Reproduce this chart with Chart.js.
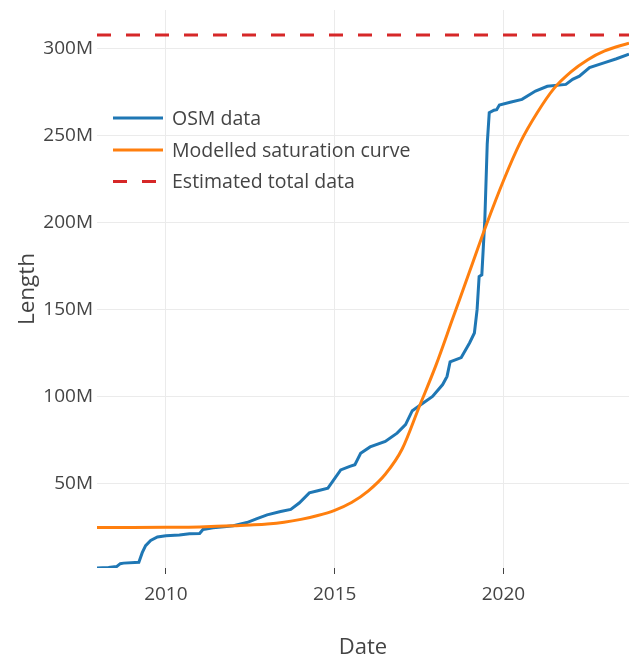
<!DOCTYPE html>
<html>
<head>
<meta charset="utf-8">
<script src="https://cdn.jsdelivr.net/npm/chart.js@4.4.1/dist/chart.umd.min.js"></script>
<style>
  html, body { margin: 0; padding: 0; background: #fff; }
  #chart { display: block; }
</style>
</head>
<body>
<canvas id="chart" width="629" height="658"></canvas>
<script>
// OSM road length over time (decimal year, millions of metres)
const osmYears = [
  2007.96, 2008.3, 2008.54, 2008.65, 2008.75, 2009.2, 2009.3, 2009.4, 2009.55, 2009.75,
  2010.0, 2010.4, 2010.7, 2011.0, 2011.1, 2011.4, 2011.8, 2012.0, 2012.4, 2012.7,
  2013.0, 2013.4, 2013.7, 2013.95, 2014.25, 2014.5, 2014.8, 2015.18, 2015.45, 2015.6,
  2015.77, 2016.05, 2016.5, 2016.85, 2017.1, 2017.3, 2017.55, 2017.9, 2018.2, 2018.33,
  2018.42, 2018.75, 2019.0, 2019.14, 2019.22, 2019.28, 2019.36, 2019.45, 2019.52, 2019.58,
  2019.72, 2019.8, 2019.88, 2020.2, 2020.55, 2020.95, 2021.3, 2021.85, 2022.05, 2022.25,
  2022.55, 2023.0, 2023.35, 2023.72
];
const osmLength = [
  1.7, 2.0, 2.5, 4.2, 4.5, 5.0, 10.5, 14.5, 17.5, 19.5,
  20.2, 20.7, 21.3, 21.5, 23.8, 24.8, 25.5, 26.0, 27.8, 30.0,
  32.2, 34.1, 35.3, 39.0, 44.8, 46.0, 47.5, 58.0, 60.0, 61.0,
  67.5, 71.2, 74.3, 79.1, 84.0, 92.0, 95.4, 100.2, 107.0, 111.7,
  120.0, 122.5, 131.0, 136.6, 150.0, 169.0, 170.0, 202.0, 245.0, 263.0,
  264.5, 264.8, 267.5, 269.0, 270.7, 275.5, 278.2, 279.3, 282.2, 284.0,
  289.0, 291.8, 294.0, 296.6
];

// Fitted saturation curve
const modelYears = [
  2007.96, 2009.0, 2010.0, 2011.0, 2012.0, 2012.5, 2013.0, 2013.5, 2014.0, 2014.5,
  2015.0, 2015.5, 2016.0, 2016.5, 2017.0, 2017.5, 2018.0, 2018.5, 2019.0, 2019.5,
  2020.0, 2020.5, 2021.0, 2021.5, 2022.0, 2022.5, 2023.0, 2023.72
];
const modelLength = [
  25.0, 25.0, 25.1, 25.3, 25.9, 26.4, 27.0, 28.0, 29.6, 31.8,
  34.8, 39.3, 46.0, 55.5, 70.0, 94.0, 118.0, 145.0, 172.0, 199.0,
  224.0, 246.0, 263.0, 277.0, 286.5, 293.5, 298.5, 303.0
];

// Estimated total (saturation level)
const estimatedTotal = 307.6;

const xTickYears = [2010, 2015, 2020];
const yTickValues = [50, 100, 150, 200, 250, 300];
const yAxisMax = 322;

const seriesLabels = ['OSM data', 'Modelled saturation curve', 'Estimated total data'];
const seriesColors = ['#1f77b4', '#ff7f0e', '#d62728'];

const toPoints = (xs, ys) => xs.map((x, i) => ({ x, y: ys[i] }));
const xMin = osmYears[0];
const xMax = osmYears[osmYears.length - 1];

Chart.defaults.font.family = "'Open Sans', 'Noto Sans', sans-serif";
Chart.defaults.color = '#444';

// Legend drawn inside the plot area, top-left
const insideLegend = {
  id: 'insideLegend',
  afterDatasetsDraw(chart) {
    const { ctx, chartArea } = chart;
    const x0 = chartArea.left + 16;
    const x1 = x0 + 50;
    const tx = x0 + 59;
    const rows = [118, 150, 181.5];
    ctx.save();
    ctx.font = "19.5px 'Open Sans', sans-serif";
    ctx.textBaseline = 'middle';
    chart.data.datasets.forEach((ds, i) => {
      const y = rows[i];
      ctx.beginPath();
      ctx.strokeStyle = ds.borderColor;
      ctx.lineWidth = ds.borderWidth;
      ctx.setLineDash(ds.borderDash || []);
      ctx.moveTo(x0, y);
      ctx.lineTo(x1, y);
      ctx.stroke();
      ctx.setLineDash([]);
      ctx.fillStyle = '#444';
      ctx.fillText(ds.label, tx, y + 1);
    });
    ctx.restore();
  }
};

new Chart(document.getElementById('chart'), {
  type: 'line',
  data: {
    datasets: [
      {
        label: seriesLabels[0],
        data: toPoints(osmYears, osmLength),
        borderColor: seriesColors[0],
        borderWidth: 3,
        pointRadius: 0,
        tension: 0,
        order: 2
      },
      {
        label: seriesLabels[1],
        data: toPoints(modelYears, modelLength),
        borderColor: seriesColors[1],
        borderWidth: 3,
        pointRadius: 0,
        cubicInterpolationMode: 'monotone',
        order: 1
      },
      {
        label: seriesLabels[2],
        data: toPoints([xMin, xMax], [estimatedTotal, estimatedTotal]),
        borderColor: seriesColors[2],
        borderWidth: 3,
        borderDash: [14, 15],
        pointRadius: 0,
        order: 0
      }
    ]
  },
  options: {
    responsive: false,
    animation: false,
    devicePixelRatio: 1,
    layout: { padding: { top: 10, right: 0, bottom: 0, left: 0 } },
    plugins: {
      legend: { display: false },
      tooltip: { enabled: false }
    },
    scales: {
      x: {
        type: 'linear',
        min: xMin,
        max: xMax,
        afterBuildTicks: s => { s.ticks = xTickYears.map(v => ({ value: v })); },
        afterFit: s => { s.height = 90; s.paddingLeft = 0; s.paddingRight = 0; },
        border: { display: false },
        grid: {
          color: '#ebebeb',
          lineWidth: 1,
          drawTicks: true,
          tickLength: 6,
          tickColor: '#444',
          tickWidth: 1
        },
        ticks: {
          font: { size: 19 },
          color: '#444',
          padding: 9,
          maxRotation: 0,
          callback: v => String(v)
        },
        title: {
          display: true,
          text: 'Date',
          font: { size: 22 },
          color: '#444',
          padding: { top: 0, bottom: -3 }
        }
      },
      y: {
        min: Math.min(...osmLength),
        max: yAxisMax,
        afterBuildTicks: s => { s.ticks = yTickValues.map(v => ({ value: v })); },
        afterFit: s => { s.width = 97; s.paddingTop = 0; s.paddingBottom = 0; },
        border: { display: false },
        grid: {
          color: '#ebebeb',
          lineWidth: 1,
          drawTicks: false
        },
        ticks: {
          font: { size: 19 },
          color: '#444',
          padding: 4,
          callback: v => v + 'M'
        },
        title: {
          display: true,
          text: 'Length',
          font: { size: 22.5 },
          color: '#444',
          padding: { top: 14, bottom: 0 }
        }
      }
    }
  },
  plugins: [insideLegend]
});
</script>
</body>
</html>
